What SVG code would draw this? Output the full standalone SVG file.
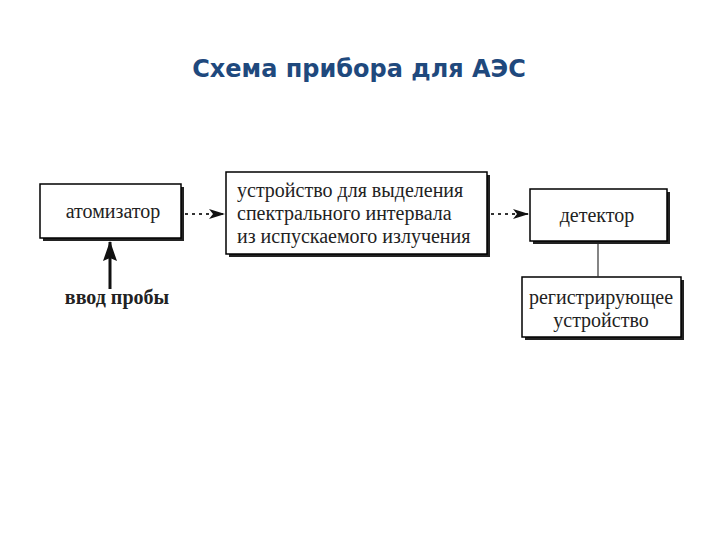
<svg xmlns="http://www.w3.org/2000/svg" width="720" height="540" viewBox="0 0 720 540">
<style>
.box{fill:#fff;stroke:#000;stroke-width:1.5}
.sh{fill:#222}
.t{font-family:"Liberation Serif","Times New Roman","DejaVu Serif",serif;font-size:20px;fill:#222}
.title{font-family:"DejaVu Sans",Verdana,sans-serif;font-weight:bold;font-size:24px;fill:#1f497d}
.dash{stroke:#333;stroke-width:1.8;stroke-dasharray:3 4;fill:none}
</style>
<defs>
<marker id="ah" markerWidth="16" markerHeight="12" refX="15" refY="6" orient="auto" markerUnits="userSpaceOnUse">
<path d="M0,1 L16,6 L0,11 L4,6 Z" fill="#111"/>
</marker>
<marker id="ah2" markerWidth="20" markerHeight="14" refX="19" refY="7" orient="auto" markerUnits="userSpaceOnUse">
<path d="M0,0 L20,7 L0,14 L3,7 Z" fill="#111"/>
</marker>
</defs>
<rect width="720" height="540" fill="#fff"/>
<text class="title" x="359" y="77" text-anchor="middle">Схема прибора для АЭС</text>

<g id="atomizer">
<rect class="sh" x="43" y="187" width="141" height="54"/>
<rect class="box" x="40" y="184" width="141" height="54"/>
<text class="t" x="113" y="218" text-anchor="middle">атомизатор</text>
</g>
<g id="selector">
<rect class="sh" x="229" y="175" width="261" height="82"/>
<rect class="box" x="226" y="172" width="261" height="82"/>
<text class="t" x="237" y="197">устройство для выделения</text>
<text class="t" x="237" y="220">спектрального интервала</text>
<text class="t" x="237" y="243">из испускаемого излучения</text>
</g>
<g id="detector">
<rect class="sh" x="533" y="192" width="137" height="52"/>
<rect class="box" x="530" y="189" width="137" height="52"/>
<text class="t" x="597" y="222" text-anchor="middle">детектор</text>
</g>
<g id="recorder">
<rect class="sh" x="525" y="280" width="159" height="60"/>
<rect class="box" x="522" y="277" width="159" height="60"/>
<text class="t" x="601" y="304" text-anchor="middle">регистрирующее</text>
<text class="t" x="601" y="327" text-anchor="middle">устройство</text>
</g>
<g id="input-label">
<text class="t" x="117" y="304" text-anchor="middle" font-weight="bold" font-size="18">ввод пробы</text>
</g>

<g id="connectors">
<path class="dash" d="M185,214 H224" marker-end="url(#ah)"/>
<path class="dash" d="M491,214 H528" marker-end="url(#ah)"/>
<path d="M110,289 V242" stroke="#111" stroke-width="3" fill="none" marker-end="url(#ah2)"/>
<path d="M598,244 V277" stroke="#333" stroke-width="1.2" fill="none"/>
</g>
</svg>
